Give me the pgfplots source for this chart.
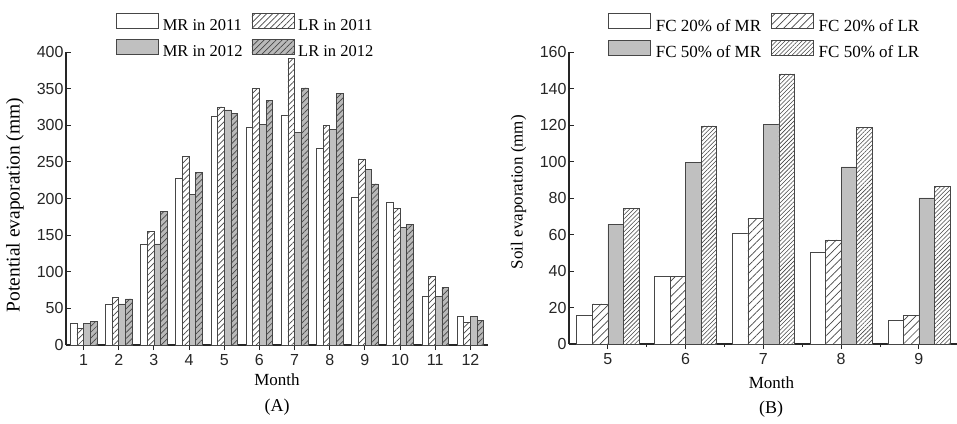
\documentclass[border=0pt]{standalone}
\usepackage{fontspec}
\setmainfont{Liberation Serif}
\newfontfamily\arialfont{Liberation Sans}
\usepackage{pgfplots}
\usepackage{pgfplotstable}
\pgfplotsset{compat=1.18}
\usetikzlibrary{patterns,patterns.meta}

\definecolor{barfill}{RGB}{192,192,192}
\definecolor{hatchfill}{RGB}{185,185,185}
\definecolor{edge}{RGB}{70,70,70}

\pgfplotstableread{
month MRa LRa MRb LRb
1 29 23 29 32
2 56 65 56 63
3 138 155 138 182
4 228 258 206 236
5 312 325 321 316
6 297 350 301 334
7 314 391 290 351
8 269 300 294 344
9 201 254 240 220
10 195 186 161 165
11 66 94 66 79
12 39 31 39 34
}\tablePE

\pgfplotstableread{
month A B C D
5 15.6 22 65.5 74.5
6 37 37 99.5 119.5
7 60.5 69 120.5 148
8 50.5 57 97 118.5
9 13 15.5 80 86.5
}\tableSE

\pgfplotsset{
  common/.style={
    scale only axis,
    anchor=south west,
    axis x line*=bottom,
    axis y line*=left,
    xtick pos=left, ytick pos=left,
    tick align=inside,
    axis line style={line width=1.1pt, black!85},
    major tick style={line width=0.9pt, black!85},
    major tick length=5pt,
    minor tick length=3pt,
    minor tick style={line width=0.9pt, black!85},
    /pgf/number format/assume math mode=true,
    ticklabel style={font=\arialfont\fontsize{16}{18}\selectfont, black!85},
    label style={font=\fontsize{17}{19}\selectfont},
    xticklabel style={yshift=-1pt},
    yticklabel style={xshift=1pt},
    ymin=0,
    ybar=0pt,
    legend columns=2,
    legend cell align=left,
    legend image code/.code={\draw[##1] (0pt,-2.5pt) rectangle (42pt,12.5pt);},
  },
}

\begin{document}
\begin{tikzpicture}
\useasboundingbox (0pt,0pt) rectangle (957pt,423pt);
% ---------------- (A)
\begin{axis}[common,
  at={(66pt,78pt)},
  width=422pt, height=293pt,
  xmin=0.5, xmax=12.5, ymax=400,
  xtick={1,...,12},
  ytick={0,50,...,400},
  bar width=0.19,
  xlabel={Month},
  ylabel={Potential evaporation (mm)},
  xlabel style={at={(axis description cs:0.5,-0.12)}, anchor=center},
  ylabel style={at={(axis description cs:-0.121,0.478)}, anchor=center,
    font=\fontsize{19.5}{21}\selectfont},
  legend style={at={(axis description cs:0.1185,1.133)}, anchor=north west,
    draw=none, fill=none, inner sep=0pt, row sep=7pt,
    font=\fontsize{16.5}{18}\selectfont,
    nodes={inner sep=0pt},
    /tikz/every odd column/.append style={column sep=4pt},
    /tikz/every even column/.append style={column sep=9pt}},
]
\addplot[bar shift=-0.285, draw=edge, line width=0.6pt, fill=white]
  table[x=month, y=MRa] {\tablePE};
\addlegendentry{MR in 2011}
\addplot[bar shift=-0.095, draw=edge, line width=0.6pt, fill=white,
  postaction={pattern={Lines[angle=45,distance=4.2pt,line width=0.7pt]}, pattern color=edge}]
  table[x=month, y=LRa] {\tablePE};
\addlegendentry{LR in 2011}
\addplot[bar shift=0.095, draw=edge, line width=0.6pt, fill=barfill]
  table[x=month, y=MRb] {\tablePE};
\addlegendentry{MR in 2012}
\addplot[bar shift=0.285, draw=edge, line width=0.6pt, fill=hatchfill,
  postaction={pattern={Lines[angle=45,distance=4.2pt,line width=0.7pt]}, pattern color=edge}]
  table[x=month, y=LRb] {\tablePE};
\addlegendentry{LR in 2012}
\end{axis}
% ---------------- (B)
\begin{axis}[common,
  at={(569pt,79pt)},
  width=388pt, height=292pt,
  xmin=4.5, xmax=9.49, ymax=160,
  xtick={5,...,9},
  minor xtick={5.5,6.5,7.5,8.5},
  ytick={0,20,...,160},
  bar width=0.2,
  xlabel={Month},
  ylabel={Soil evaporation (mm)},
  xlabel style={at={(axis description cs:0.522,-0.132)}, anchor=center},
  ylabel style={at={(axis description cs:-0.13,0.52)}, anchor=center},
  legend style={at={(axis description cs:0.1005,1.1336)}, anchor=north west,
    draw=none, fill=none, inner sep=0pt, row sep=7pt,
    font=\fontsize{17}{19}\selectfont,
    nodes={inner sep=0pt},
    /tikz/every odd column/.append style={column sep=5pt},
    /tikz/every even column/.append style={column sep=10pt}},
]
\addplot[bar shift=-0.3, draw=edge, line width=0.6pt, fill=white]
  table[x=month, y=A] {\tableSE};
\addlegendentry{FC 20\% of MR}
\addplot[bar shift=-0.1, draw=edge, line width=0.6pt, fill=white,
  postaction={pattern={Lines[angle=45,distance=5.5pt,line width=0.7pt]}, pattern color=edge}]
  table[x=month, y=B] {\tableSE};
\addlegendentry{FC 20\% of LR}
\addplot[bar shift=0.1, draw=edge, line width=0.6pt, fill=barfill]
  table[x=month, y=C] {\tableSE};
\addlegendentry{FC 50\% of MR}
\addplot[bar shift=0.3, draw=edge, line width=0.6pt, fill=white,
  postaction={pattern={Lines[angle=45,distance=3pt,line width=0.6pt]}, pattern color=edge}]
  table[x=month, y=D] {\tableSE};
\addlegendentry{FC 50\% of LR}
\end{axis}
\node[font=\fontsize{18}{20}\selectfont] at (277pt,16pt) {(A)};
\node[font=\fontsize{18}{20}\selectfont] at (771pt,14pt) {(B)};
\end{tikzpicture}
\end{document}
